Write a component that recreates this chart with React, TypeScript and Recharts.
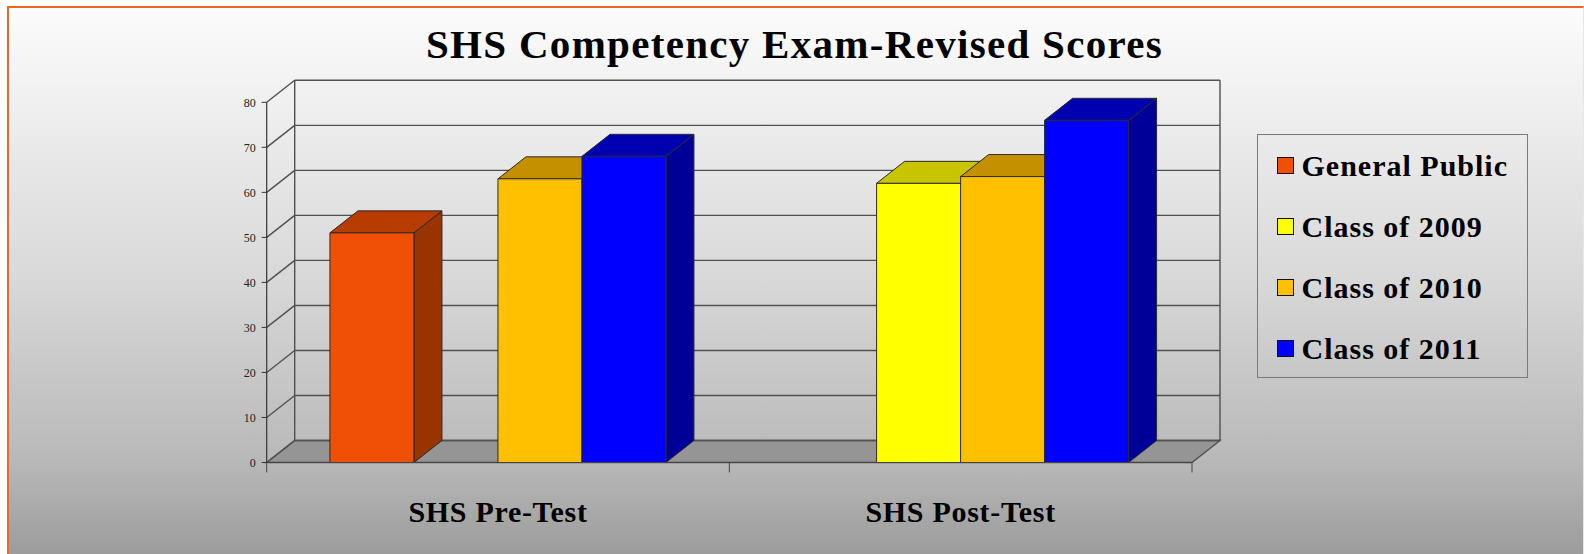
import React from "react";
import {
  BarChart,
  Bar,
  XAxis,
  YAxis,
  CartesianGrid,
  Legend,
} from "recharts";

const categories = ["SHS Pre-Test", "SHS Post-Test"];
const seriesNames = ["General Public", "Class of 2009", "Class of 2010", "Class of 2011"];
const generalPublic = [51, null];
const class2009 = [null, 62];
const class2010 = [63, 63.5];
const class2011 = [68, 76];
const yTicks = [0, 10, 20, 30, 40, 50, 60, 70, 80];

const data = categories.map((name, i) => ({
  name,
  gp: generalPublic[i],
  c2009: class2009[i],
  c2010: class2010[i],
  c2011: class2011[i],
}));

// layout
const WIDTH = 1584;
const HEIGHT = 554;
const MARGIN = { top: 102.3, right: 392, bottom: 31.5, left: 206.7 };
const Y_AXIS_W = 60;
const X_AXIS_H = 60;
const PLOT_LEFT = MARGIN.left + Y_AXIS_W;
const PLOT_RIGHT = WIDTH - MARGIN.right;
const PLOT_BOTTOM = HEIGHT - MARGIN.bottom - X_AXIS_H;
const BAND = (PLOT_RIGHT - PLOT_LEFT) / categories.length;
// 3d depth offset
const DX = 28;
const DY = -22;
const SERIF = "'Liberation Serif', 'Times New Roman', serif";
const GRID = "#505050";

const Box3D = (props: any) => {
  const { x, y, width, height, fill, topFill, sideFill } = props;
  if (height == null || !(height > 0)) return <g />;
  const r = x + width;
  const b = y + height;
  return (
    <g stroke="#2a2a2a" strokeWidth={1} strokeLinejoin="round">
      <polygon
        points={`${r},${y} ${r + DX},${y + DY} ${r + DX},${b + DY} ${r},${b}`}
        fill={sideFill}
      />
      <polygon
        points={`${x},${y} ${r},${y} ${r + DX},${y + DY} ${x + DX},${y + DY}`}
        fill={topFill}
      />
      <rect x={x} y={y} width={width} height={height} fill={fill} />
    </g>
  );
};

const WallLine = (props: any) => {
  const { x1, x2, y1, index } = props;
  const isFloor = Math.abs(y1 - PLOT_BOTTOM) < 1;
  const isTop = Math.abs(y1 - MARGIN.top) < 1;
  return (
    <g key={`wall-${index}`} stroke={GRID} strokeWidth={1.4} fill="none">
      {isFloor && (
        <polygon
          points={`${x1},${y1} ${x2},${y1} ${x2 + DX},${y1 + DY} ${x1 + DX},${y1 + DY}`}
          fill="#959595"
        />
      )}
      <line x1={x1} y1={y1} x2={x1 + DX} y2={y1 + DY} />
      <line x1={x1 + DX} y1={y1 + DY} x2={x2 + DX} y2={y1 + DY} />
      {isTop && (
        <>
          <line x1={x1 + DX} y1={y1 + DY} x2={x1 + DX} y2={PLOT_BOTTOM + DY} />
          <line x1={x2 + DX} y1={y1 + DY} x2={x2 + DX} y2={PLOT_BOTTOM + DY} />
        </>
      )}
    </g>
  );
};

const CategoryTick = (props: any) => {
  const { x, payload, index } = props;
  const half = BAND / 2;
  return (
    <g>
      <line x1={x - half} x2={x - half} y1={PLOT_BOTTOM} y2={PLOT_BOTTOM + 10} stroke="#444" />
      {index === categories.length - 1 && (
        <line x1={x + half} x2={x + half} y1={PLOT_BOTTOM} y2={PLOT_BOTTOM + 10} stroke="#444" />
      )}
      <text
        x={x}
        y={PLOT_BOTTOM + 59}
        textAnchor="middle"
        fontFamily={SERIF}
        fontWeight="bold"
        fontSize={30}
        letterSpacing={0.7}
        fill="#000"
      >
        {payload.value}
      </text>
    </g>
  );
};

const LegendBox = (props: any) => {
  const items = [...(props.payload || [])].sort(
    (a: any, b: any) => seriesNames.indexOf(a.value) - seriesNames.indexOf(b.value)
  );
  return (
    <div
      style={{
        width: 271,
        height: 244,
        boxSizing: "border-box",
        border: "1px solid #7a7a7a",
        paddingLeft: 19,
      }}
    >
      {items.map((it: any) => (
        <div
          key={it.value}
          style={{ display: "flex", alignItems: "center", height: 61 }}
        >
          <span
            style={{
              width: 17,
              height: 17,
              boxSizing: "border-box",
              background: it.color,
              border: "1.5px solid #111",
              marginRight: 8,
            }}
          />
          <span
            style={{
              fontFamily: SERIF,
              fontWeight: "bold",
              fontSize: 30,
              letterSpacing: 1,
              color: "#000",
              lineHeight: "61px",
              whiteSpace: "nowrap",
            }}
          >
            {it.value}
          </span>
        </div>
      ))}
    </div>
  );
};

export default function App() {
  return (
    <div style={{ position: "fixed", left: 0, top: 0, width: WIDTH, height: HEIGHT, background: "#fff" }}>
      <div
        style={{
          position: "absolute",
          left: 7,
          top: 6,
          width: WIDTH - 7,
          height: HEIGHT - 6,
          boxSizing: "border-box",
          borderTop: "2px solid #f26522",
          borderLeft: "2px solid #f26522",
          borderRight: "1px solid #e6e6e6",
          background:
            "linear-gradient(to bottom, #fcfcfc 0%, #f1f1f1 15%, #d8d8d8 50%, #b8b8b8 83%, #9c9c9c 100%)",
        }}
      />
      <div
        style={{
          position: "absolute",
          left: 2.5,
          top: 24,
          width: WIDTH,
          textAlign: "center",
          fontFamily: SERIF,
          fontWeight: "bold",
          fontSize: 41,
          lineHeight: "41px",
          letterSpacing: 1.3,
          color: "#000",
        }}
      >
        SHS Competency Exam-Revised Scores
      </div>
      <div style={{ position: "absolute", left: 0, top: 0 }}>
        <BarChart
          width={WIDTH}
          height={HEIGHT}
          data={data}
          margin={MARGIN}
          barGap={0}
          barCategoryGap="13.67%"
        >
          <CartesianGrid vertical={false} horizontal={WallLine} />
          <XAxis
            dataKey="name"
            height={X_AXIS_H}
            axisLine={{ stroke: "#444", strokeWidth: 1.2 }}
            tickLine={false}
            tick={<CategoryTick />}
            interval={0}
          />
          <YAxis
            width={Y_AXIS_W}
            domain={[0, 80]}
            ticks={yTicks}
            interval={0}
            axisLine={{ stroke: "#333", strokeWidth: 1.2 }}
            tickLine={{ stroke: "#333" }}
            tickSize={5}
            tickMargin={6}
            tick={{ fontFamily: SERIF, fontSize: 12, fill: "#222" }}
          />
          <Legend
            layout="vertical"
            align="center"
            verticalAlign="middle"
            itemSorter={null}
            content={<LegendBox />}
            wrapperStyle={{ left: 1256.5, top: 134, width: 271, height: 244 }}
          />
          <Bar
            dataKey="gp"
            name={seriesNames[0]}
            fill="#f05005"
            isAnimationActive={false}
            shape={(p: any) => <Box3D {...p} topFill="#b83c00" sideFill="#993300" />}
          />
          <Bar
            dataKey="c2009"
            name={seriesNames[1]}
            fill="#ffff00"
            isAnimationActive={false}
            shape={(p: any) => <Box3D {...p} topFill="#c8c400" sideFill="#a3a000" />}
          />
          <Bar
            dataKey="c2010"
            name={seriesNames[2]}
            fill="#ffc000"
            isAnimationActive={false}
            shape={(p: any) => <Box3D {...p} topFill="#c49000" sideFill="#9e7400" />}
          />
          <Bar
            dataKey="c2011"
            name={seriesNames[3]}
            fill="#0000ff"
            isAnimationActive={false}
            shape={(p: any) => <Box3D {...p} topFill="#0000b0" sideFill="#000099" />}
          />
        </BarChart>
      </div>
    </div>
  );
}
